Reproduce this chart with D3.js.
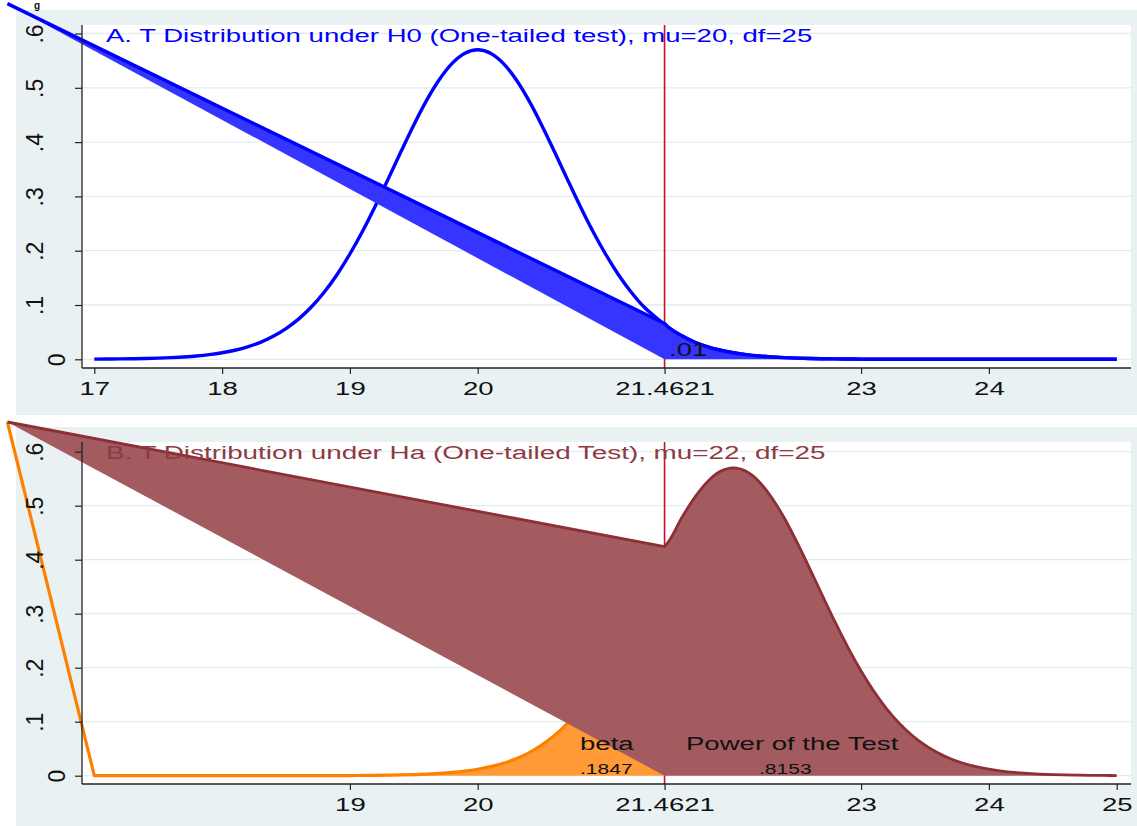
<!DOCTYPE html>
<html>
<head>
<meta charset="utf-8">
<script src="https://cdn.jsdelivr.net/npm/d3@7"></script>
<style>
  html, body { margin: 0; padding: 0; background: #ffffff; }
  svg { display: block; }
  text { font-family: "Liberation Sans", Arial, Helvetica, sans-serif; }
</style>
</head>
<body>
<svg id="chart" width="1137" height="826"></svg>
<script>
// ---- data ---------------------------------------------------------------
const X_GRID = [
  17.0, 17.1, 17.2, 17.3, 17.4, 17.5, 17.6, 17.7, 17.8, 17.9,
  18.0, 18.1, 18.2, 18.3, 18.4, 18.5, 18.6, 18.7, 18.8, 18.9,
  19.0, 19.1, 19.2, 19.3, 19.4, 19.5, 19.6, 19.7, 19.8, 19.9,
  20.0, 20.1, 20.2, 20.3, 20.4, 20.5, 20.6, 20.7, 20.8, 20.9,
  21.0, 21.1, 21.2, 21.3, 21.4, 21.5, 21.6, 21.7, 21.8, 21.9,
  22.0, 22.1, 22.2, 22.3, 22.4, 22.5, 22.6, 22.7, 22.8, 22.9,
  23.0, 23.1, 23.2, 23.3, 23.4, 23.5, 23.6, 23.7, 23.8, 23.9,
  24.0, 24.1, 24.2, 24.3, 24.4, 24.5, 24.6, 24.7, 24.8, 24.9,
  25.0
];

// t density under H0 (mu = 20, df = 25)
const H0_DENSITY = [
  0.0003, 0.0005, 0.0007, 0.0010, 0.0014, 0.0021, 0.0030, 0.0043, 0.0060, 0.0085,
  0.0120, 0.0167, 0.0230, 0.0313, 0.0423, 0.0565, 0.0744, 0.0967, 0.1239, 0.1562,
  0.1939, 0.2363, 0.2829, 0.3323, 0.3826, 0.4316, 0.4768, 0.5153, 0.5450, 0.5636,
  0.5700, 0.5636, 0.5450, 0.5153, 0.4768, 0.4316, 0.3826, 0.3323, 0.2829, 0.2363,
  0.1939, 0.1562, 0.1239, 0.0967, 0.0760, 0.0575, 0.0430, 0.0315, 0.0230, 0.0167,
  0.0120, 0.0085, 0.0060, 0.0043, 0.0030, 0.0021, 0.0014, 0.0010, 0.0007, 0.0005,
  0.0003, 0.0002, 0.0002, 0.0001, 0.0001, 0.0001, 0.0001, 0.0000, 0.0000, 0.0000,
  0.0000, 0.0000, 0.0000, 0.0000, 0.0000, 0.0000, 0.0000, 0.0000, 0.0000, 0.0000,
  0.0000
];

// t density under Ha (mu = 22, df = 25)
const HA_DENSITY = [
  0.0000, 0.0000, 0.0000, 0.0000, 0.0000, 0.0000, 0.0000, 0.0000, 0.0000, 0.0000,
  0.0000, 0.0000, 0.0000, 0.0000, 0.0001, 0.0001, 0.0001, 0.0001, 0.0002, 0.0002,
  0.0003, 0.0005, 0.0007, 0.0010, 0.0014, 0.0021, 0.0030, 0.0043, 0.0060, 0.0085,
  0.0120, 0.0167, 0.0230, 0.0313, 0.0423, 0.0565, 0.0744, 0.0967, 0.1239, 0.1562,
  0.1939, 0.2363, 0.2829, 0.3323, 0.3880, 0.4360, 0.4790, 0.5160, 0.5450, 0.5636,
  0.5700, 0.5636, 0.5450, 0.5153, 0.4768, 0.4316, 0.3826, 0.3323, 0.2829, 0.2363,
  0.1939, 0.1562, 0.1239, 0.0967, 0.0744, 0.0565, 0.0423, 0.0313, 0.0230, 0.0167,
  0.0120, 0.0085, 0.0060, 0.0043, 0.0030, 0.0021, 0.0014, 0.0010, 0.0007, 0.0005,
  0.0003
];

const CRITICAL_X = 21.4621;
const CRITICAL_H0_DENSITY = 0.066;
const CRITICAL_HA_DENSITY = 0.424;
// stray first observation carried into the shaded-area plots
const STRAY_POINT = [16.32, 0.655];

const Y_TICKS = [0, 0.1, 0.2, 0.3, 0.4, 0.5, 0.6];
const Y_TICK_LABELS = ["0", ".1", ".2", ".3", ".4", ".5", ".6"];
const TOP_X_TICKS = [17, 18, 19, 20, 21.4621, 23, 24];
const TOP_X_LABELS = ["17", "18", "19", "20", "21.4621", "23", "24"];
const BOTTOM_X_TICKS = [19, 20, 21.4621, 23, 24, 25];
const BOTTOM_X_LABELS = ["19", "20", "21.4621", "23", "24", "25"];

const TITLE_A = "A. T Distribution under H0 (One-tailed test), mu=20, df=25";
const TITLE_B = "B. T Distribution under Ha (One-tailed Test), mu=22, df=25";
const ALPHA_LABEL = ".01";
const BETA_LABEL = "beta";
const BETA_VALUE = ".1847";
const POWER_LABEL = "Power of the Test";
const POWER_VALUE = ".8153";

// ---- drawing ------------------------------------------------------------
const svg = d3.select("#chart");
const STRETCH = 1.45;         // horizontal stretch of lettering
const BG = "#eaf1f3";
const GRID = "#e2ebee";

function label(parent, str, x, y, opt) {
  const o = Object.assign({ size: 19, anchor: "start", color: "#111", rotate: 0, sx: STRETCH }, opt || {});
  return parent.append("text")
    .attr("transform", `translate(${x},${y}) scale(${o.sx},1)` + (o.rotate ? ` rotate(${o.rotate})` : ""))
    .attr("text-anchor", o.anchor)
    .attr("font-size", o.size)
    .attr("fill", o.color)
    .text(str);
}

const series = X_GRID.map((x, i) => ({ x, h0: H0_DENSITY[i], ha: HA_DENSITY[i] }));

function panel(cfg) {
  const g = svg.append("g");
  const x = d3.scaleLinear().domain([17, 25]).range([94.3, 1116.7]);
  const y = d3.scaleLinear().domain([0, 0.6]).range([cfg.yZero, cfg.yZero - 6 * cfg.yUnit]);

  // backgrounds
  g.append("rect").attr("x", cfg.outer[0]).attr("y", cfg.outer[1])
    .attr("width", cfg.outer[2]).attr("height", cfg.outer[3]).attr("fill", BG);
  g.append("rect").attr("x", cfg.plot[0]).attr("y", cfg.plot[1])
    .attr("width", cfg.plot[2] - cfg.plot[0]).attr("height", cfg.plot[3] - cfg.plot[1]).attr("fill", "#fff");

  // gridlines
  g.selectAll("line.grid").data(Y_TICKS).join("line")
    .attr("x1", cfg.plot[0]).attr("x2", cfg.plot[2])
    .attr("y1", d => y(d)).attr("y2", d => y(d))
    .attr("stroke", GRID).attr("stroke-width", 1.3);

  // critical value
  g.append("line")
    .attr("x1", x(CRITICAL_X)).attr("x2", x(CRITICAL_X))
    .attr("y1", cfg.plot[1]).attr("y2", cfg.plot[3])
    .attr("stroke", "#c8102e").attr("stroke-width", 1.6);

  const curve = d3.line().x(d => x(d[0])).y(d => y(d[1])).curve(d3.curveMonotoneX);
  const fromStray = pts => `M${x(STRAY_POINT[0])},${y(STRAY_POINT[1])}L` + curve(pts).slice(1);
  const closeToBase = pts => `L${x(pts[pts.length - 1][0])},${y(0)}L${x(pts[0][0])},${y(0)}Z`;

  cfg.draw(g, x, y, curve, fromStray, closeToBase);

  // axes
  const xAxis = d3.axisBottom(x).tickValues(cfg.xTicks)
    .tickFormat((d, i) => cfg.xLabels[i]).tickSize(6).tickPadding(6);
  const xa = g.append("g").attr("transform", `translate(0,${cfg.plot[3]})`).call(xAxis);
  xa.select(".domain").remove();
  xa.selectAll(".tick line").attr("stroke", "#222").attr("stroke-width", 1.2);
  xa.selectAll(".tick text")
    .attr("font-size", 19).attr("fill", "#111")
    .attr("font-family", "Liberation Sans, Arial, sans-serif")
    .attr("y", 27).attr("dy", 0)
    .attr("transform", `scale(${STRETCH},1)`);

  const yAxis = d3.axisLeft(y).tickValues(Y_TICKS)
    .tickFormat((d, i) => Y_TICK_LABELS[i]).tickSize(7);
  const ya = g.append("g").attr("transform", `translate(${cfg.plot[0]},0)`).call(yAxis);
  ya.select(".domain").remove();
  ya.selectAll(".tick line").attr("stroke", "#222").attr("stroke-width", 1.2);
  ya.selectAll(".tick text")
    .attr("x", null).attr("dy", null)
    .attr("font-size", 23).attr("fill", "#111")
    .attr("font-family", "Liberation Sans, Arial, sans-serif")
    .attr("text-anchor", "middle")
    .attr("transform", (d, i) => `translate(${i === 0 ? -17 : -39},0) rotate(-90)`);

  // axis lines
  g.append("line").attr("x1", cfg.plot[0]).attr("x2", cfg.plot[0])
    .attr("y1", cfg.plot[1]).attr("y2", cfg.plot[3]).attr("stroke", "#222").attr("stroke-width", 1.3);
  g.append("line").attr("x1", cfg.plot[0]).attr("x2", cfg.plot[2])
    .attr("y1", cfg.plot[3]).attr("y2", cfg.plot[3]).attr("stroke", "#222").attr("stroke-width", 1.3);

  cfg.annotate(g, x, y);
}

// Panel A: distribution under H0 with the rejection region
panel({
  outer: [16, 10, 1121, 405],
  plot: [82, 25, 1131, 368],
  yZero: 359.3, yUnit: 54.3,
  xTicks: TOP_X_TICKS, xLabels: TOP_X_LABELS,
  draw(g, x, y, curve, fromStray, closeToBase) {
    g.append("path").attr("d", curve(series.map(d => [d.x, d.h0])))
      .attr("fill", "none").attr("stroke", "#0000ff").attr("stroke-width", 3.4);
    const tail = [[CRITICAL_X, CRITICAL_H0_DENSITY]]
      .concat(series.filter(d => d.x > CRITICAL_X).map(d => [d.x, d.h0]));
    g.append("path").attr("d", fromStray(tail) + closeToBase(tail))
      .attr("fill", "#3535ff").attr("stroke", "none");
    g.append("path").attr("d", fromStray(tail))
      .attr("fill", "none").attr("stroke", "#0000ff").attr("stroke-width", 3.4)
      .attr("stroke-linejoin", "round");
  },
  annotate(g, x, y) {
    label(g, TITLE_A, 106, 42, { color: "#0000ff" });
    label(g, ALPHA_LABEL, 669, 356, { color: "#111" });
  }
});

// Panel B: distribution under Ha with beta and power regions
panel({
  outer: [16, 427, 1121, 399],
  plot: [82, 442, 1131, 784],
  yZero: 775.7, yUnit: 54.0,
  xTicks: BOTTOM_X_TICKS, xLabels: BOTTOM_X_LABELS,
  draw(g, x, y, curve, fromStray, closeToBase) {
    const left = series.filter(d => d.x < CRITICAL_X).map(d => [d.x, d.ha])
      .concat([[CRITICAL_X, CRITICAL_HA_DENSITY]]);
    g.append("path").attr("d", curve(left) + `L${x(CRITICAL_X)},${y(0)}L${x(left[0][0])},${y(0)}Z`)
      .attr("fill", "#ff9a36").attr("stroke", "none");
    g.append("path").attr("d", fromStray(left))
      .attr("fill", "none").attr("stroke", "#ff8000").attr("stroke-width", 3.2)
      .attr("stroke-linejoin", "round");

    const right = [[CRITICAL_X, CRITICAL_HA_DENSITY]]
      .concat(series.filter(d => d.x > CRITICAL_X).map(d => [d.x, d.ha]));
    g.append("path").attr("d", fromStray(right) + closeToBase(right))
      .attr("fill", "#a45b5f").attr("stroke", "none");
    g.append("path").attr("d", fromStray(right))
      .attr("fill", "none").attr("stroke", "#8c2f37").attr("stroke-width", 2.8)
      .attr("stroke-linejoin", "round");
  },
  annotate(g, x, y) {
    label(g, TITLE_B, 106, 459, { color: "#8e3a42", sx: 1.465 });
    label(g, BETA_LABEL, 580, 750);
    label(g, BETA_VALUE, 580, 774, { size: 14.5 });
    label(g, POWER_LABEL, 686, 750);
    label(g, POWER_VALUE, 759, 774, { size: 14.5 });
  }
});

// caption fragment above the figure
svg.append("text").attr("x", 34).attr("y", 9)
  .attr("font-family", "Liberation Serif, Times New Roman, serif")
  .attr("font-weight", "bold").attr("font-size", 10).attr("fill", "#111").text("g");
</script>
</body>
</html>
